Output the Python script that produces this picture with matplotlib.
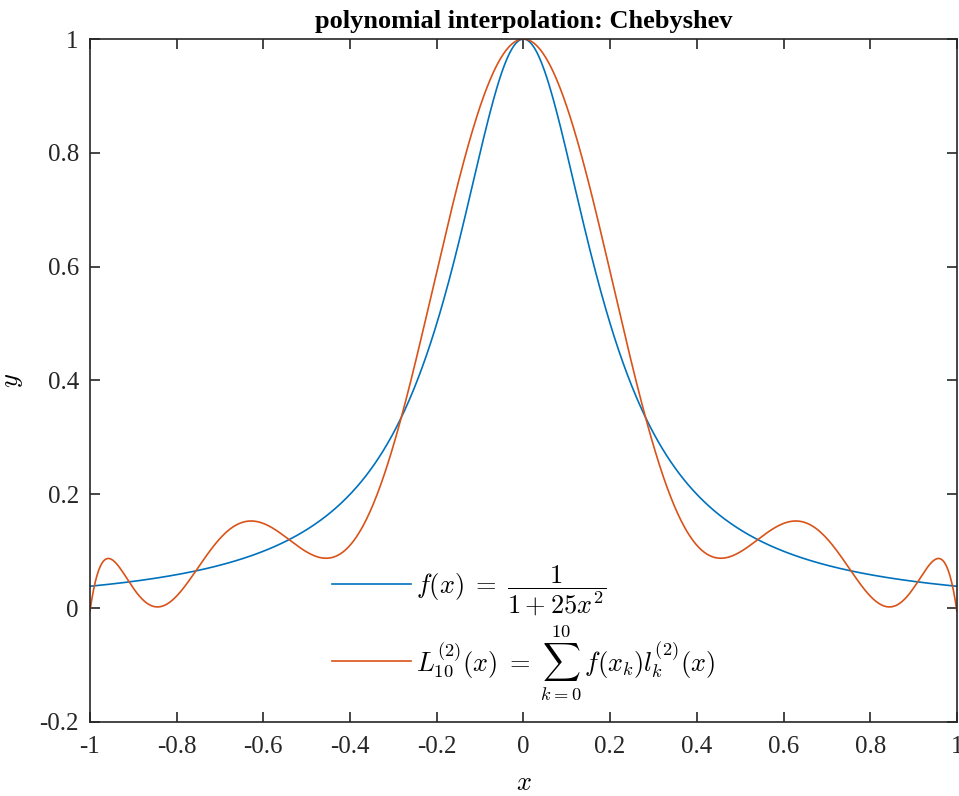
import numpy as np
import matplotlib
matplotlib.use("Agg")
import matplotlib.pyplot as plt

plt.rcParams['font.family'] = ['Liberation Serif', 'DejaVu Serif']
plt.rcParams['mathtext.fontset'] = 'cm'

# Chebyshev interpolation nodes (11 points) read from the crossings
nodes = [-0.9898, -0.9096, -0.7557, -0.5406, -0.2817, 0.0,
         0.2817, 0.5406, 0.7557, 0.9096, 0.9898]
x_range = [-1, 1]
y_range = [-0.2, 1]
xticks = [-1, -0.8, -0.6, -0.4, -0.2, 0, 0.2, 0.4, 0.6, 0.8, 1]
yticks = [-0.2, 0, 0.2, 0.4, 0.6, 0.8, 1]


def runge(x):
    return 1.0 / (1.0 + 25.0 * x ** 2)


xk = np.array(nodes)
yk = runge(xk)
coef = np.polyfit(xk, yk, len(xk) - 1)

x = np.linspace(x_range[0], x_range[1], 1001)

fig = plt.figure(figsize=(9.59, 7.96), dpi=100)
ax = fig.add_axes([0.0938, 0.093, 0.904, 0.858])

ax.plot(x, runge(x), color='#0072BD', lw=1.2,
        label=r'$f(x)\;=\;\dfrac{1}{1+25x^2}$')
ax.plot(x, np.polyval(coef, x), color='#D95319', lw=1.2,
        label=r'$L_{10}^{(2)}(x)\;=\;\sum_{k=0}^{10}\,f(x_k)l_k^{(2)}(x)$')

ax.set_xlim(x_range)
ax.set_ylim(y_range)
ax.set_xticks(xticks)
ax.set_yticks(yticks)
ax.set_xticklabels([f'{t:g}' for t in xticks])
ax.set_yticklabels([f'{t:g}' for t in yticks])
ax.tick_params(direction='in', top=True, right=True, length=7, width=1.2,
               labelsize=18, colors='#262626')
ax.tick_params(axis='y', pad=8)
ax.tick_params(axis='x', pad=10)
for s in ax.spines.values():
    s.set_linewidth(1.2)
    s.set_color('#262626')

ax.set_xlabel('$x$', fontsize=19, labelpad=11)
ax.set_ylabel('$y$', fontsize=19)
ax.yaxis.set_label_coords(-0.075, 0.5)
ax.set_title('polynomial interpolation: Chebyshev', fontsize=19,
             fontweight='bold', pad=8)

leg = ax.legend(loc='lower center', bbox_to_anchor=(0.5, -0.005), frameon=False,
                fontsize=19, handlelength=3.0, handletextpad=0.2,
                labelspacing=0.2)

fig.savefig('out.png', dpi=100)
